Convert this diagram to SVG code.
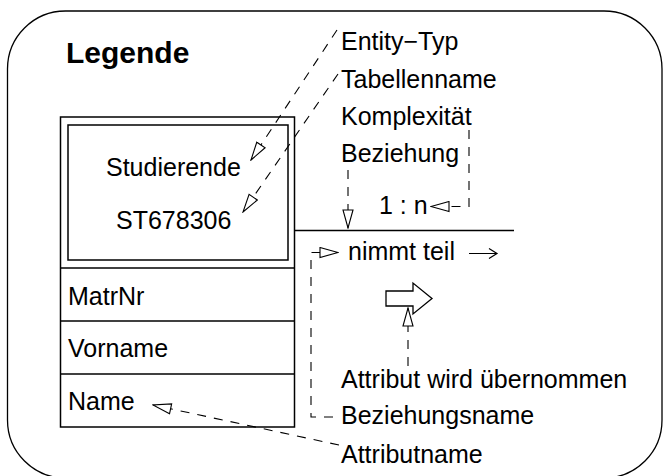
<svg xmlns="http://www.w3.org/2000/svg" width="666" height="476" viewBox="0 0 666 476">
  <style>
    text { font-family: "Liberation Sans", Arial, Helvetica, sans-serif; font-size: 25px; fill: #000; }
    .title { font-weight: bold; font-size: 30px; }
    .frame { fill: none; stroke: #000; stroke-width: 1.3; }
    .box { fill: #fff; stroke: #000; stroke-width: 1.5; }
    .line { fill: none; stroke: #000; stroke-width: 1.5; }
    .dash { fill: none; stroke: #000; stroke-width: 1.1; stroke-dasharray: 9 8; }
    .solid { fill: none; stroke: #000; stroke-width: 1.2; }
  </style>
  <defs>
    <!-- open triangular arrowhead used by the dashed pointers -->
    <marker id="open" viewBox="0 0 20 12" refX="19" refY="6" markerWidth="20" markerHeight="12" markerUnits="userSpaceOnUse" orient="auto">
      <path d="M1,1 L19,6 L1,11 Z" fill="#fff" stroke="#000" stroke-width="1.1" stroke-dasharray="none"/>
    </marker>
  </defs>

  <!-- legend frame -->
  <rect class="frame" x="7.5" y="11" width="654.5" height="467" rx="58" ry="58"/>
  <text class="title" x="66" y="63">Legende</text>

  <!-- entity type with its attributes -->
  <g id="entity">
    <rect class="box" x="60.5" y="117" width="234" height="310"/>
    <rect class="box" x="68" y="125" width="220" height="135"/>
    <line class="line" x1="60.5" y1="268" x2="294.5" y2="268"/>
    <line class="line" x1="60.5" y1="321" x2="294.5" y2="321"/>
    <line class="line" x1="60.5" y1="374" x2="294.5" y2="374"/>
    <text x="106" y="176">Studierende</text>
    <text x="116" y="229">ST678306</text>
    <text x="68" y="305">MatrNr</text>
    <text x="68" y="357">Vorname</text>
    <text x="68" y="410">Name</text>
  </g>

  <!-- relationship -->
  <g id="relationship">
    <line class="line" x1="294.5" y1="230.5" x2="514" y2="230.5"/>
    <text x="379" y="214">1 : n</text>
    <text x="348" y="260">nimmt teil</text>
    <path class="solid" d="M469,253.5 H497 M489,248.5 L497,253.5 L489,258.5"/>
  </g>

  <!-- attribute taken over -->
  <g id="takeover">
    <path class="box" style="stroke-width:1.3" d="M386,291 H413 V283 L432,298.5 L413,314 V306 H386 Z"/>
  </g>

  <!-- explanation labels -->
  <g id="labels">
    <text x="341" y="50">Entity−Typ</text>
    <text x="341" y="88">Tabellenname</text>
    <text x="341" y="125">Komplexität</text>
    <text x="341" y="162">Beziehung</text>
    <text x="341" y="388">Attribut wird übernommen</text>
    <text x="341" y="424">Beziehungsname</text>
    <text x="341" y="463">Attributname</text>
  </g>

  <!-- pointers from labels to diagram elements -->
  <g id="connectors">
    <path class="dash" d="M337,30 L251,160" marker-end="url(#open)"/>
    <path class="dash" d="M338,74 L243,212" marker-end="url(#open)"/>
    <path class="dash" d="M469,130 V206.5 H431" marker-end="url(#open)"/>
    <path class="dash" d="M348,170 V228" marker-end="url(#open)"/>
    <path class="dash" d="M333,417 H311 V252.5 H338" marker-end="url(#open)"/>
    <path class="dash" d="M408,366 V308" marker-end="url(#open)"/>
    <path class="dash" d="M339,445 L153,405" marker-end="url(#open)"/>
  </g>
</svg>
